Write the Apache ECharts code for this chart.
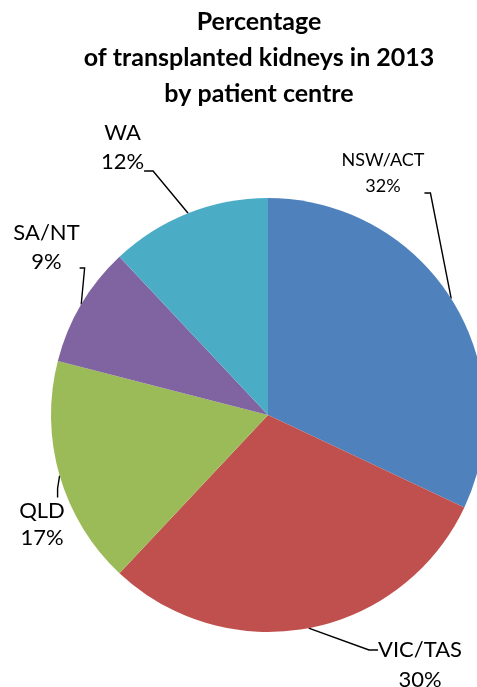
<!DOCTYPE html>
<html lang="en">
<head>
<meta charset="UTF-8">
<title>Transplanted kidneys 2013</title>
<script src="https://cdn.jsdelivr.net/npm/echarts@6/dist/echarts.min.js"></script>
<style>
  html, body { margin: 0; padding: 0; background: #fff; }
  #chart { width: 477px; height: 687px; }
</style>
</head>
<body>
<div id="chart"></div>
<script>
var centres = ['NSW/ACT', 'VIC/TAS', 'QLD', 'SA/NT', 'WA'];
var percents = [32, 30, 17, 9, 12];
var colours = ['#4F81BD', '#C0504D', '#9BBB59', '#8064A2', '#4BACC6'];

// label text centres as placed in the original, plus font size / line height
var labelSpots = [[383, 173], [420, 665], [42, 524.5], [46.5, 247.5], [122.5, 147.5]];
var labelFonts = [18, 22, 22, 22, 22];
var labelLines = [26, 30, 27, 29, 29];
// blank space above / below the two text lines, so the leader hooks at the right height
var labelGaps = [[0, 40], [30, 0], [0, 0], [0, 41], [0, 47]];
// invisible side padding [top, right, bottom, left] to steer which side the leader picks
var labelPads = [[0, 0, 0, 150], [0, 0, 0, 0], [0, 34, 0, 0], [0, 0, 0, 40], [0, 0, 0, 60]];
var leaderTails = [6, 9, 9, 5, 9];

var chart = echarts.init(document.getElementById('chart'));

var pieData = [];
for (var i = 0; i < centres.length; i++) {
  var g = labelGaps[i];
  var fmt = (g[0] ? '{gt| }\n' : '') + '{b}\n{c}%' + (g[1] ? '\n{gb| }' : '');
  pieData.push({
    name: centres[i],
    value: percents[i],
    itemStyle: { color: colours[i] },
    label: {
      formatter: fmt,
      fontSize: labelFonts[i],
      lineHeight: labelLines[i],
      padding: labelPads[i],
      rich: {
        gt: { fontSize: 1, lineHeight: g[0] || 1 },
        gb: { fontSize: 1, lineHeight: g[1] || 1 }
      }
    },
    labelLine: { length2: leaderTails[i] }
  });
}

chart.setOption({
  animation: false,
  title: {
    text: 'Percentage\nof transplanted kidneys in 2013\nby patient centre',
    left: 259,
    top: 4,
    padding: 0,
    textAlign: 'center',
    textStyle: {
      fontFamily: 'Lato',
      fontWeight: 'bold',
      fontSize: 25,
      lineHeight: 36,
      color: '#000'
    }
  },
  series: [{
    type: 'pie',
    center: [268, 415],
    radius: 217,
    startAngle: 90,
    clockwise: true,
    data: pieData,
    label: {
      show: true,
      fontFamily: 'Lato',
      color: '#000',
      align: 'center',
      width: 40,
      overflow: 'none',
      backgroundColor: 'rgba(255,255,255,0)'
    },
    labelLine: {
      show: true,
      minTurnAngle: 10,
      lineStyle: { color: '#000', width: 1.4 }
    },
    labelLayout: function (params) {
      var i = params.dataIndex;
      var p = labelSpots[i], pad = labelPads[i], g = labelGaps[i];
      return {
        x: p[0] - (pad[3] - pad[1]) / 2,
        y: p[1] + (g[1] - g[0]) / 2,
        align: 'center',
        verticalAlign: 'middle'
      };
    }
  }]
});
</script>
</body>
</html>
